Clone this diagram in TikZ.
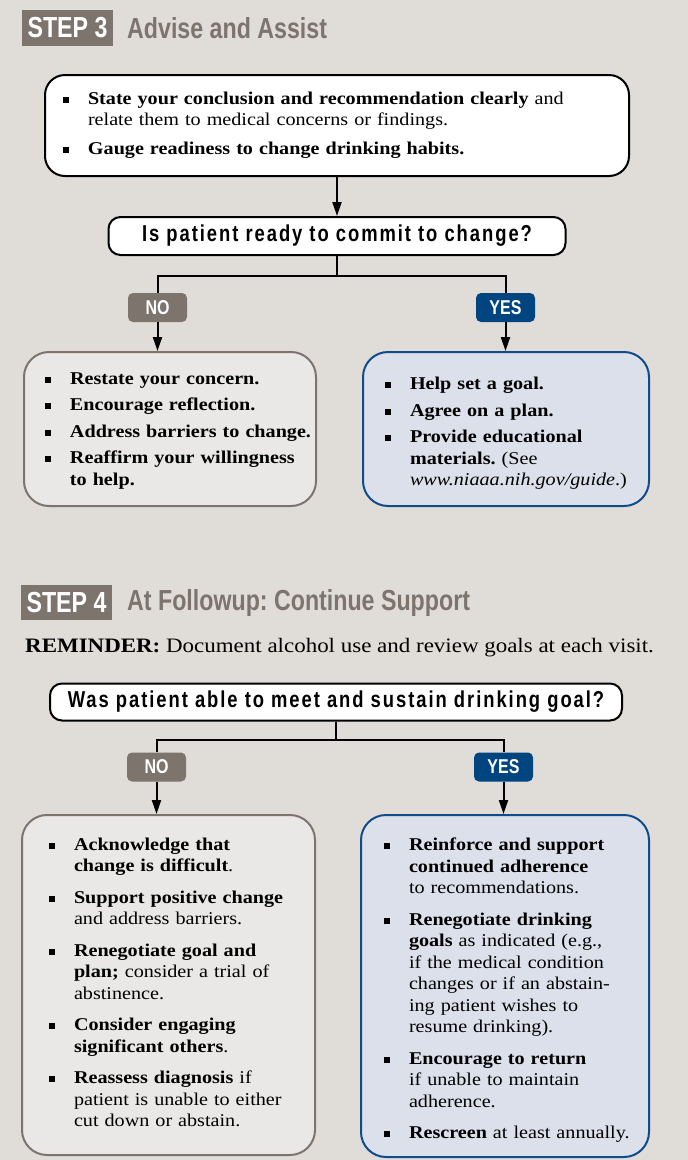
\documentclass[tikz,border=0pt]{standalone}
\usepackage{fontspec}
\setmainfont[FakeStretch=1.12]{Liberation Serif}
\newfontfamily\headfont[FakeStretch=0.80]{Liberation Sans}
\newfontfamily\askfont[FakeStretch=0.80,LetterSpace=8.5]{Liberation Sans}
\usepackage{enumitem}
\setlist[itemize]{label=\rule[1.5pt]{6pt}{6pt}, leftmargin=25pt, labelsep=19pt,
  labelwidth=6pt, align=left, rightmargin=-30pt, topsep=0pt, partopsep=0pt,
  parsep=0pt, itemsep=5pt}
\frenchspacing
\newcommand{\lift}[1]{\par\vspace{#1}\hrule height 0pt}
\usetikzlibrary{arrows.meta}

\definecolor{paper}{RGB}{224,221,216}
\definecolor{taupe}{RGB}{125,116,110}
\definecolor{navy}{RGB}{0,68,128}
\definecolor{greyfill}{RGB}{233,232,230}
\definecolor{bluefill}{RGB}{220,224,234}
\definecolor{blueline}{RGB}{16,76,140}

\begin{document}
\begin{tikzpicture}[
  x=1pt,
  y=-1pt,
  >={Triangle[length=14pt,width=9pt]},
  stephead/.style={fill=taupe, text=white, font=\headfont\bfseries\fontsize{29}{29}\selectfont,
    minimum width=91pt, inner sep=0pt},
  heading/.style={anchor=west, text=taupe, inner sep=0pt,
    font=\headfont\bfseries\fontsize{29}{29}\selectfont},
  advice/.style={draw, line width=2pt, fill=white, rounded corners=20pt, align=left,
    font=\fontsize{18}{21}\selectfont},
  ask/.style={draw, line width=2pt, fill=white, rounded corners=12pt, inner sep=0pt,
    font=\askfont\bfseries\fontsize{23}{23}\selectfont},
  notag/.style={fill=taupe, rounded corners=5pt, minimum width=59pt, minimum height=29pt,
    inner sep=0pt, text=white, font=\headfont\bfseries\fontsize{20}{20}\selectfont},
  yestag/.style={notag, fill=navy},
  nobox/.style={draw=taupe, line width=2pt, fill=greyfill, rounded corners=25pt, align=left,
    font=\fontsize{18}{21.5}\selectfont},
  yesbox/.style={nobox, draw=blueline, fill=bluefill},
  link/.style={line width=2pt},
  arrow/.style={link, ->}
]
\useasboundingbox[fill=paper] (0,0) rectangle (688,1160);

% step 3
\node[stephead, minimum height=36pt] (hd3) at (67.5,28) {STEP 3};
\node[heading] (title3) at (127,28) {Advise and Assist};
\node[advice, minimum height=101pt, text width=548pt, inner xsep=18pt] (adv) at (337,125.5) {%
  \begin{itemize}[itemsep=8pt]
  \item \textbf{State your conclusion and recommendation clearly} and\newline
    relate them to medical concerns or findings.
  \item \textbf{Gauge readiness to change drinking habits.}
  \end{itemize}\lift{10pt}};
\node[ask, minimum width=457pt, minimum height=38pt] (q1) at (337,236)
  {Is patient ready to commit to change?};
\node[notag] (no1) at (157.5,307.5) {NO};
\node[yestag] (yes1) at (505.5,307.5) {YES};
\node[nobox, minimum height=154pt, text width=250pt, inner xsep=21pt] (nb1) at (170,429) {%
  \begin{itemize}[itemsep=5pt]
  \item \textbf{Restate your concern.}
  \item \textbf{Encourage reflection.}
  \item \textbf{Address barriers to change.}
  \item \textbf{Reaffirm your willingness\newline to help.}
  \end{itemize}\lift{6pt}};
\node[yesbox, minimum height=154pt, text width=242pt, inner xsep=22pt] (yb1) at (506,429) {%
  \begin{itemize}[itemsep=5pt]
  \item \textbf{Help set a goal.}
  \item \textbf{Agree on a plan.}
  \item \textbf{Provide educational\newline materials.} (See\newline
    \textit{www.niaaa.nih.gov/guide}.)
  \end{itemize}};
\draw[arrow] (adv) -- (q1);
\draw[link] (q1.south) -- ++(0,20) -| (no1.north);
\draw[link] (q1.south) ++(0,20) -| (yes1.north);
\draw[arrow] (no1) -- (no1 |- nb1.north);
\draw[arrow] (yes1) -- (yes1 |- yb1.north);

% step 4
\node[stephead, minimum height=35pt] (hd4) at (66.5,602.5) {STEP 4};
\node[heading] (title4) at (127,602.5) {At Followup: Continue Support};
\node[anchor=west, inner sep=0pt, font=\fontsize{20.5}{20.5}\selectfont] (remind) at (25,648)
  {\textbf{REMINDER:} Document alcohol use and review goals at each visit.};
\node[ask, minimum width=572pt, minimum height=37pt] (q2) at (336,702)
  {Was patient able to meet and sustain drinking goal?};
\node[notag] (no2) at (156.5,767) {NO};
\node[yestag] (yes2) at (503.5,767) {YES};
\node[nobox, minimum height=340pt, text width=239pt, inner xsep=27pt] (nb2) at (168.5,985) {%
  \begin{itemize}[itemsep=10pt]
  \item \textbf{Acknowledge that\newline change is difficult}.
  \item \textbf{Support positive change}\newline and address barriers.
  \item \textbf{Renegotiate goal and\newline plan;} consider a trial of\newline abstinence.
  \item \textbf{Consider engaging\newline significant others}.
  \item \textbf{Reassess diagnosis} if\newline patient is unable to either\newline
    cut down or abstain.
  \end{itemize}\lift{14pt}};
\node[yesbox, minimum height=342pt, text width=242pt, inner xsep=23pt] (yb2) at (505,986) {%
  \begin{itemize}[itemsep=10pt]
  \item \textbf{Reinforce and support\newline continued adherence}\newline
    to recommendations.
  \item \textbf{Renegotiate drinking\newline goals} as indicated (e.g.,\newline
    if the medical condition\newline changes or if an abstain-\newline
    ing patient wishes to\newline resume drinking).
  \item \textbf{Encourage to return}\newline if unable to maintain\newline adherence.
  \item \textbf{Rescreen} at least annually.
  \end{itemize}};
\draw[link] (q2.south) -- ++(0,18) -| (no2.north);
\draw[link] (q2.south) ++(0,18) -| (yes2.north);
\draw[arrow] (no2) -- (no2 |- nb2.north);
\draw[arrow] (yes2) -- (yes2 |- yb2.north);
\end{tikzpicture}
\end{document}
